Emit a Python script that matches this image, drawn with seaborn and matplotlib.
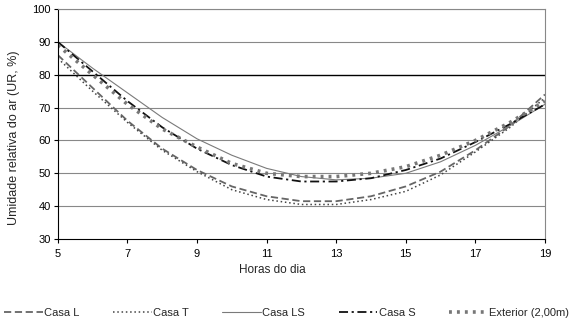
import matplotlib
matplotlib.use("Agg")
import matplotlib.pyplot as plt
import seaborn as sns
import pandas as pd

hours = [5, 6, 7, 8, 9, 10, 11, 12, 13, 14, 15, 16, 17, 18, 19]
casa_l = [86, 76, 66, 57.5, 51, 46, 43, 41.5, 41.5, 43, 46, 50.5, 57, 64.5, 74]
casa_t = [85, 75, 65.5, 57, 50.5, 45, 42, 40.5, 40.5, 42, 44.5, 49.5, 56.5, 64, 73]
casa_ls = [90, 82, 74.5, 67, 60.5, 55.5, 51.5, 49, 48, 48.5, 50, 53.5, 58.5, 64.5, 71]
casa_s = [90, 81, 72, 64, 57.5, 52.5, 49, 47.5, 47.5, 48.5, 51, 54.5, 59.5, 65, 71]
exterior = [89, 80, 71, 63.5, 58, 53, 50, 49, 49, 50, 52, 55.5, 60, 65.5, 72]

series = {
    "Casa L": casa_l,
    "Casa T": casa_t,
    "Casa LS": casa_ls,
    "Casa S": casa_s,
    "Exterior (2,00m)": exterior,
}
xticks = [5, 7, 9, 11, 13, 15, 17, 19]
yticks = [30, 40, 50, 60, 70, 80, 90, 100]

styles = {
    "Casa L": dict(color="#666666", lw=1.3, dashes=(4, 2)),
    "Casa T": dict(color="#444444", lw=1.1, dashes=(1, 1.8)),
    "Casa LS": dict(color="#7a7a7a", lw=0.8, dashes=()),
    "Casa S": dict(color="#111111", lw=1.3, dashes=(5, 2, 1.2, 2)),
    "Exterior (2,00m)": dict(color="#777777", lw=2.6, dashes=(0.8, 1.4)),
}

sns.set_style("white")
plt.rcParams["font.family"] = ["Liberation Sans", "DejaVu Sans"]

fig = plt.figure(figsize=(5.73, 3.26), dpi=100)
ax = fig.add_axes([0.101, 0.267, 0.850, 0.705])

for name, vals in series.items():
    df = pd.DataFrame({"h": hours, "v": vals})
    st = styles[name]
    sns.lineplot(data=df, x="h", y="v", ax=ax, color=st["color"], lw=st["lw"], label=name)
    l = ax.lines[-1]
    if st["dashes"]:
        l.set_dashes(st["dashes"])
    if name == "Exterior (2,00m)":
        l.set_dash_capstyle("butt")

ax.set_xlim(5, 19)
ax.set_ylim(30, 100)
ax.set_xticks(xticks)
ax.set_yticks(yticks)
for y in yticks[1:]:
    ax.axhline(y, color="black" if y == 80 else "#888888", lw=1.0 if y == 80 else 0.8, zorder=0)
ax.tick_params(axis="both", labelsize=8, length=3, width=0.8, colors="black", direction="out", pad=2)
ax.tick_params(axis="x", pad=4)
for side in ["left", "bottom"]:
    ax.spines[side].set_color("black")
    ax.spines[side].set_linewidth(0.8)
for side in ["right", "top"]:
    ax.spines[side].set_color("#888888")
    ax.spines[side].set_linewidth(0.8)
ax.xaxis.set_ticks_position("bottom")
ax.yaxis.set_ticks_position("left")

ax.set_xlabel("Horas do dia", fontsize=8.5)
ax.set_ylabel("Umidade relativa do ar (UR, %)", fontsize=9)
ax.xaxis.set_label_coords(0.44, -0.11)
ax.yaxis.set_label_coords(-0.078, 0.44)

handles, labels = ax.get_legend_handles_labels()
ax.get_legend().remove()
fig.legend(handles, labels, loc="lower left", bbox_to_anchor=(0.0, 0.01, 1.0, 0.08),
           mode="expand", ncol=5, frameon=False, fontsize=8, handlelength=3.5,
           handletextpad=0.1, borderaxespad=0)

fig.savefig("out.png", dpi=100)
